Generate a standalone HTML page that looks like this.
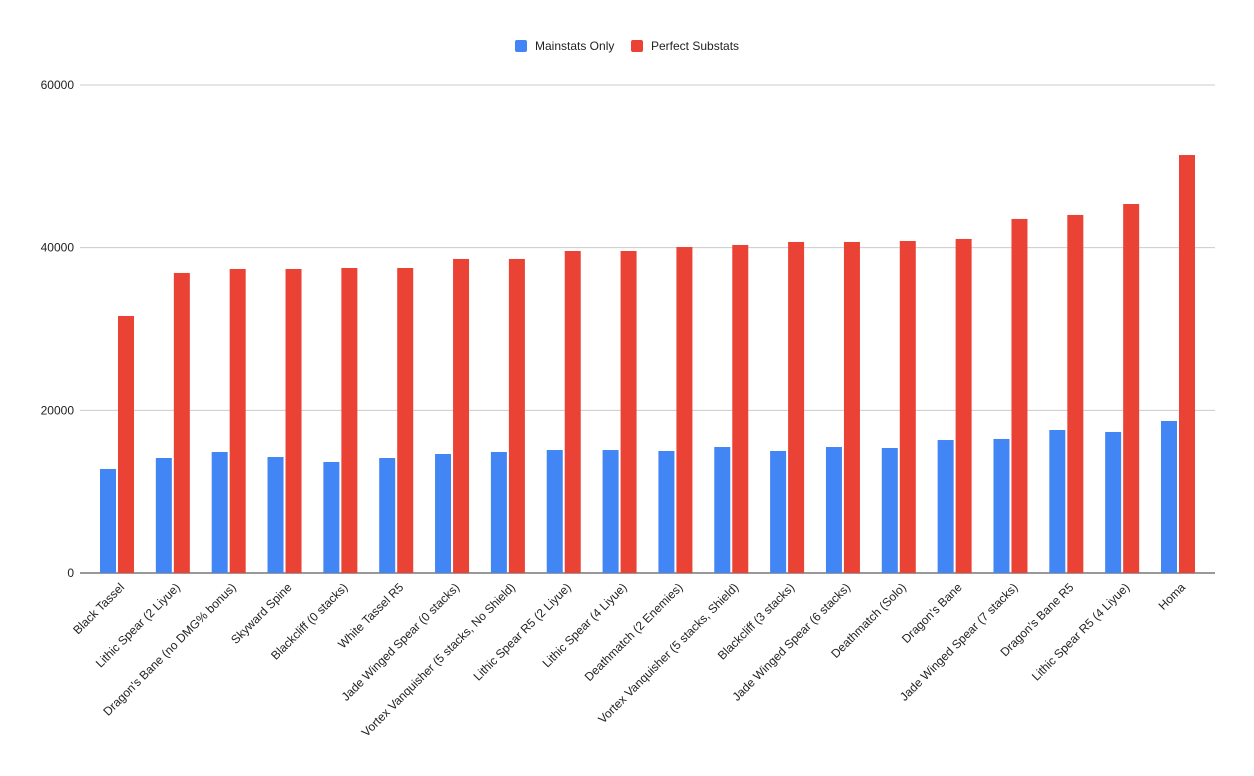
<!DOCTYPE html>
<html><head><meta charset="utf-8"><style>
body{margin:0;background:#fff;}
svg{display:block;font-family:"Liberation Sans",Arial,sans-serif;}
</style></head><body>
<svg id="chart" width="1254" height="776" viewBox="0 0 1254 776">
<rect width="1254" height="776" fill="#fff"/>
<g id="legend">
<rect x="515" y="40" width="12" height="12" rx="2" fill="#4285f4"/>
<text x="535" y="50" font-size="12" fill="#222">Mainstats Only</text>
<rect x="631" y="40" width="12" height="12" rx="2" fill="#ea4335"/>
<text x="651" y="50" font-size="12" fill="#222">Perfect Substats</text>
</g>
<g id="grid"></g><g id="bars"></g><g id="xlabels"></g>
</svg>
<script>
const categories=["Black Tassel","Lithic Spear (2 Liyue)","Dragon's Bane (no DMG% bonus)","Skyward Spine","Blackcliff (0 stacks)","White Tassel R5","Jade Winged Spear (0 stacks)","Vortex Vanquisher (5 stacks, No Shield)","Lithic Spear R5 (2 Liyue)","Lithic Spear (4 Liyue)","Deathmatch (2 Enemies)","Vortex Vanquisher (5 stacks, Shield)","Blackcliff (3 stacks)","Jade Winged Spear (6 stacks)","Deathmatch (Solo)","Dragon's Bane","Jade Winged Spear (7 stacks)","Dragon's Bane R5","Lithic Spear R5 (4 Liyue)","Homa"];
const mainstats=[12790,14140,14880,14260,13650,14140,14630,14880,15120,15120,15000,15490,15000,15490,15370,16350,16480,17580,17340,18690];
const perfect=[31600,36890,37380,37380,37500,37500,38610,38610,39590,39590,40080,40330,40700,40700,40820,41070,43530,44020,45370,51390];
const yTicks=[0,20000,40000,60000];
const NS="http://www.w3.org/2000/svg";
const y0=573,yTop=85,yMax=60000;
function yScale(v){return y0-(v/yMax)*(y0-yTop);}
function xCenter(i){return 117+i*(1178-117)/(categories.length-1);}
function mk(tag,attrs,parent){const e=document.createElementNS(NS,tag);for(const k in attrs)e.setAttribute(k,attrs[k]);parent.appendChild(e);return e;}
const grid=document.getElementById('grid'),bars=document.getElementById('bars'),xl=document.getElementById('xlabels');
yTicks.forEach(t=>{
  const y=yScale(t);
  const l=mk('line',{x1:80,x2:1215,y1:y,y2:y,stroke:t===0?'#333':'#ccc','stroke-width':1},grid);
  
  
  const tx=mk('text',{x:74,y:y+4,'text-anchor':'end','font-size':12,fill:'#222'},grid);
  tx.textContent=t;
  
  
});
categories.forEach((c,i)=>{
  const cx=xCenter(i);
  const b=mk('rect',{x:cx-17,y:yScale(mainstats[i]),width:16,height:y0-yScale(mainstats[i]),fill:'#4285f4'},bars);
  
  
  const r=mk('rect',{x:cx+1,y:yScale(perfect[i]),width:16,height:y0-yScale(perfect[i]),fill:'#ea4335'},bars);
  
  
  const t=mk('text',{x:cx+8,y:588,'text-anchor':'end','font-size':12,fill:'#222',transform:`rotate(-45 ${cx+8} 588)`},xl);
  t.textContent=c;
  
  
});
</script>
</body></html>
